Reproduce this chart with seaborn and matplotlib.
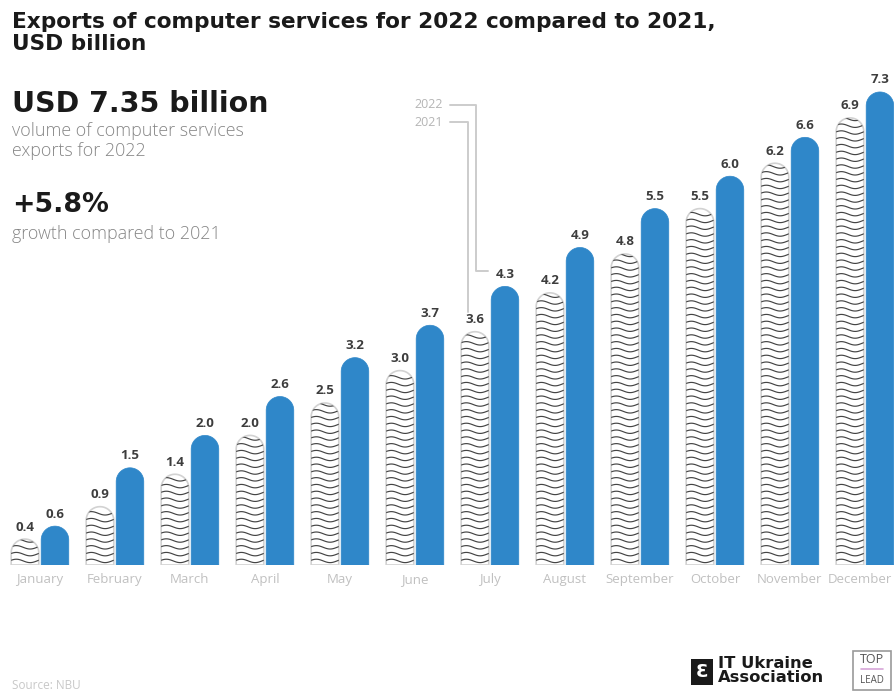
import numpy as np
import pandas as pd
import matplotlib
matplotlib.use("Agg")
import matplotlib.pyplot as plt
import seaborn as sns
from matplotlib.path import Path
from matplotlib.patches import PathPatch, Rectangle
from matplotlib.transforms import ScaledTranslation

months = ["January", "February", "March", "April", "May", "June", "July",
          "August", "September", "October", "November", "December"]
exports_2021 = [0.4, 0.9, 1.4, 2.0, 2.5, 3.0, 3.6, 4.2, 4.8, 5.5, 6.2, 6.9]
exports_2022 = [0.6, 1.5, 2.0, 2.6, 3.2, 3.7, 4.3, 4.9, 5.5, 6.0, 6.6, 7.3]
years = ["2021", "2022"]

BLUE = "#2f87c9"

df = pd.DataFrame({
    "month": months * 2,
    "year": ["2021"] * 12 + ["2022"] * 12,
    "value": exports_2021 + exports_2022,
})

sns.set_theme(style="white")
plt.rcParams["font.family"] = ["Open Sans", "DejaVu Sans"]

W, H = 894, 693
fig = plt.figure(figsize=(W / 100, H / 100), dpi=100)
fig.patch.set_facecolor("white")

base_px = 565
top_px = 60
ax = fig.add_axes([0, (H - base_px) / H, 1, (base_px - top_px) / H])

sns.barplot(data=df, x="month", y="value", hue="year", hue_order=years,
            palette={"2021": "white", "2022": BLUE}, order=months,
            gap=0.08, legend=False, ax=ax, saturation=1)

x0, x1 = -0.533, 11.387
ax.set_xlim(x0, x1)
ppy = 64.8
ax.set_ylim(0, (base_px - top_px) / ppy)
ppx = W / (x1 - x0)

for s in ax.spines.values():
    s.set_visible(False)
ax.set_yticks([])
ax.set_ylabel("")
ax.set_xlabel("")
ax.tick_params(axis="x", length=0, pad=6, labelsize=9.5, labelcolor="#c0c0c0")
last = ax.get_xticklabels()[-1]
last.set_transform(last.get_transform() + ScaledTranslation(-5 / 100, 0, fig.dpi_scale_trans))


def rounded_path(xl, w, h):
    rx = w / 2
    ry = rx * ppx / ppy
    ry = min(ry, h)
    cx = xl + rx
    t = np.linspace(0, np.pi, 40)
    xs = np.concatenate([[xl + w, xl + w], cx + rx * np.cos(t), [xl, xl + w]])
    ys = np.concatenate([[0, h - ry], h - ry + ry * np.sin(t), [0, 0]])
    verts = np.column_stack([xs, ys])
    codes = [Path.MOVETO] + [Path.LINETO] * (len(verts) - 2) + [Path.CLOSEPOLY]
    return Path(verts, codes)


label_pos = {}
for ci, cont in enumerate(ax.containers):
    yr = years[ci]
    for bi, bar in enumerate(cont):
        xl = bar.get_x()
        w = bar.get_width()
        h = bar.get_height()
        bar.set_visible(False)
        path = rounded_path(xl, w, h)
        if yr == "2022":
            p = PathPatch(path, facecolor=BLUE, edgecolor=BLUE, lw=0.5, zorder=3)
            ax.add_patch(p)
        else:
            p = PathPatch(path, facecolor="white", edgecolor="#d2d2d2", lw=1.2, zorder=3)
            ax.add_patch(p)
            clip = PathPatch(path, transform=ax.transData, facecolor="none", edgecolor="none")
            ax.add_patch(clip)
            spacing = 6.8 / ppy
            amp = 1.7 / ppy
            xs = np.linspace(xl, xl + w, 40)
            yy = spacing * 0.6
            while yy < h:
                ys = yy + amp * np.sin(2 * np.pi * (xs - xl) / w * 1.0 + 0.4)
                ln, = ax.plot(xs, ys, color="#444444", lw=0.85, zorder=4)
                ln.set_clip_path(clip)
                yy += spacing
        xc = xl + w / 2
        label_pos[(yr, bi)] = (xc, h)
        ax.annotate(f"{h:.1f}", (xc, h), xytext=(0, 4), textcoords="offset points",
                    ha="center", va="bottom", fontsize=9.5, fontweight="bold",
                    color="#3d3d3d", zorder=5)

# legend leader lines pointing at July bars
jul = months.index("July")
xc21, v21 = label_pos[("2021", jul)]
xc22, v22 = label_pos[("2022", jul)]
lc = "#cccccc"
y22 = (base_px - 105) / ppy
y21 = (base_px - 122) / ppy
xt = (443 / ppx) + x0
ax.plot([xt + 7 / ppx, xc22 - 29 / ppx, xc22 - 29 / ppx, xc22 - 17 / ppx],
        [y22, y22, v22 + 15 / ppy, v22 + 15 / ppy], color=lc, lw=1.4, zorder=2,
        clip_on=False)
ax.plot([xt + 7 / ppx, xc21 - 7 / ppx, xc21 - 7 / ppx],
        [y21, y21, v21 + 20 / ppy], color=lc, lw=1.4, zorder=2, clip_on=False)
ax.text(xt, y22, "2022", ha="right", va="center", fontsize=9, color="#b5b5b5")
ax.text(xt, y21, "2021", ha="right", va="center", fontsize=9, color="#b5b5b5")


def ftext(x, y, s, **kw):
    fig.text(x / W, 1 - y / H, s, **kw)


heavy = ["DejaVu Sans"]
ftext(12, 28, "Exports of computer services for 2022 compared to 2021,",
      ha="left", va="baseline", fontsize=15.6, fontweight="bold", family=heavy,
      color="#1a1a1a")
ftext(12, 50, "USD billion",
      ha="left", va="baseline", fontsize=15.6, fontweight="bold", family=heavy,
      color="#1a1a1a")
ftext(12, 112, "USD 7.35 billion", ha="left", va="baseline", fontsize=20.5,
      fontweight="bold", family=heavy, color="#1a1a1a")
ftext(12, 136, "volume of computer services", ha="left", va="baseline",
      fontsize=12.9, fontweight="light", color="#868686")
ftext(12, 156, "exports for 2022", ha="left", va="baseline",
      fontsize=12.9, fontweight="light", color="#868686")
ftext(12, 212, "+5.8%", ha="left", va="baseline", fontsize=19.3,
      fontweight="bold", family=heavy, color="#1a1a1a")
ftext(12, 239, "growth compared to 2021", ha="left", va="baseline",
      fontsize=12.9, fontweight="light", color="#868686")

ftext(12, 689, "Source: NBU", ha="left", va="baseline", fontsize=8.5,
      color="#c8c8c8")

# logos
fig.patches.append(Rectangle((691 / W, 1 - 685 / H), 22 / W, 26 / H,
                             transform=fig.transFigure, facecolor="#1a1a1a",
                             edgecolor="none"))
ftext(702, 672, "Ɛ", ha="center", va="center", fontsize=13, fontweight="bold",
      color="white")
ftext(718, 656, "IT Ukraine\nAssociation", ha="left", va="top", fontsize=11.8,
      fontweight="bold", family=heavy, color="#1a1a1a", linespacing=0.95)
fig.patches.append(Rectangle((853 / W, 1 - 690 / H), 38 / W, 39 / H,
                             transform=fig.transFigure, facecolor="white",
                             edgecolor="#9a9a9a", lw=1.2))
ftext(872, 663, "TOP", ha="center", va="baseline", fontsize=9, color="#555555")
fig.lines.append(plt.Line2D([861 / W, 883 / W], [1 - 669 / H, 1 - 669 / H],
                            transform=fig.transFigure, color="#d7a6d8", lw=1.2))
ftext(872, 683, "LEAD", ha="center", va="baseline", fontsize=7, color="#555555")

fig.savefig("out.png", dpi=100, facecolor="white")
